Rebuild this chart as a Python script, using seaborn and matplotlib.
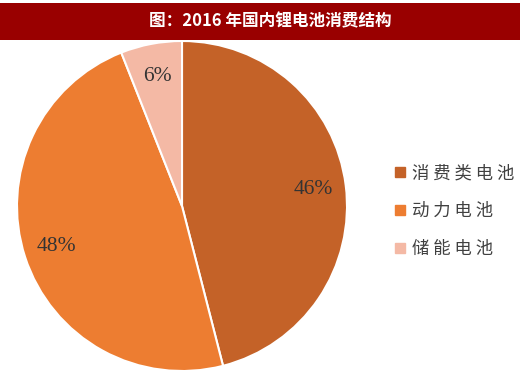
import matplotlib
matplotlib.use('Agg')
import matplotlib.pyplot as plt
import seaborn as sns
from matplotlib.patches import Rectangle
from matplotlib.lines import Line2D

# 数据
categories = ['消费类电池', '动力电池', '储能电池']
shares = [46, 48, 6]
colors = ['#C46228', '#ED7D31', '#F4B9A5']
title = '图：2016 年国内锂电池消费结构'

sns.set_theme(style='white')
plt.rcParams['font.family'] = ['Noto Sans CJK SC', 'DejaVu Sans']

W, H = 520, 377
fig = plt.figure(figsize=(W / 100, H / 100), dpi=100)

# 标题栏
fig.patches.append(Rectangle((0, 1 - 40 / H), 1, 37 / H, transform=fig.transFigure,
                             facecolor='#990000', edgecolor='none'))
fig.text(0.519, 1 - 21 / H, title, color='white', fontsize=12,
         ha='center', va='center', fontweight='bold')

# 饼图
cx, cy, r = 182, 206, 165
ax = fig.add_axes([(cx - r) / W, 1 - (cy + r) / H, 2 * r / W, 2 * r / H])
wedges, texts = ax.pie(shares, colors=colors, startangle=90, counterclock=False,
                       labels=[f'{v}%' for v in shares], labeldistance=0.8,
                       wedgeprops=dict(edgecolor='white', linewidth=1.5),
                       textprops=dict(fontsize=15.5, color='#333333',
                                      family=['Liberation Serif', 'DejaVu Serif']))
for t in texts:
    t.set_ha('center')
    t.set_va('center')
ax.set_xlim(-1, 1)
ax.set_ylim(-1, 1)
ax.set_aspect('equal')
ax.axis('off')

# 图例
handles = [Line2D([0], [0], marker='s', linestyle='none', markersize=6.5,
                  markerfacecolor=c, markeredgecolor=c) for c in colors]
fig.legend(handles, [' '.join(c) for c in categories], loc='center left',
           bbox_to_anchor=(376 / W, 1 - 211 / H),
           frameon=False, fontsize=12.5, labelspacing=1.15, handletextpad=0.2,
           handlelength=1.0, labelcolor='#404040')

fig.savefig('out.png', dpi=100)
